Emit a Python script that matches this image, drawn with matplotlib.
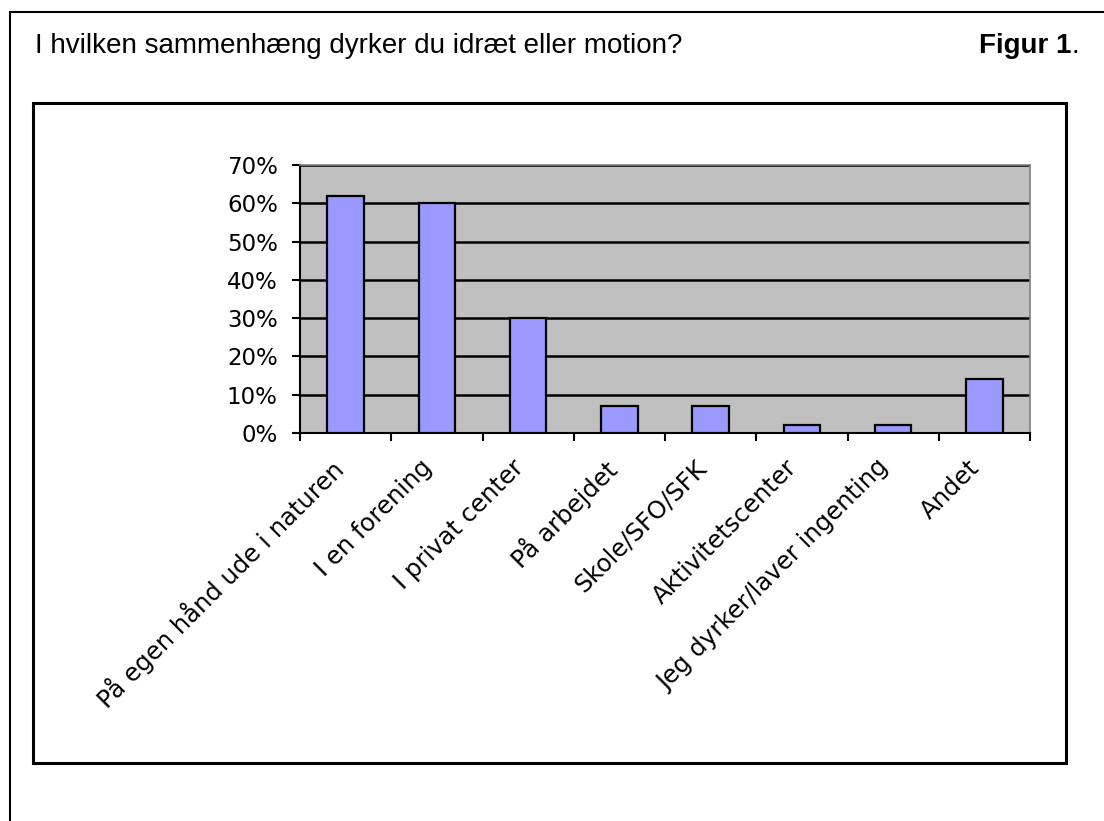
import numpy as np
import matplotlib
matplotlib.use("Agg")
import matplotlib.pyplot as plt
from matplotlib.patches import Rectangle
from matplotlib.lines import Line2D
from matplotlib.transforms import ScaledTranslation

categories = ["På egen hånd ude i naturen", "I en forening", "I privat center",
              "På arbejdet", "Skole/SFO/SFK", "Aktivitetscenter",
              "Jeg dyrker/laver ingenting", "Andet"]
values = [62, 60, 30, 7, 7, 2, 2, 14]
yticks = [0, 10, 20, 30, 40, 50, 60, 70]
ytick_labels = ["0%", "10%", "20%", "30%", "40%", "50%", "60%", "70%"]

W, H = 1104, 821
fig = plt.figure(figsize=(W / 100, H / 100), dpi=100)
fig.patch.set_facecolor("white")


def fx(px):
    return px / W


def fy(py):
    return 1 - py / H


# outer frame (only left and top visible)
fig.add_artist(Line2D([fx(10), fx(10)], [fy(12), 0], color="black", lw=1.5, transform=fig.transFigure))
fig.add_artist(Line2D([fx(10), 1], [fy(12), fy(12)], color="black", lw=1.5, transform=fig.transFigure))

# inner chart frame
fig.add_artist(Rectangle((fx(33), fy(763)), fx(1066) - fx(33), fy(103) - fy(763),
                         fill=False, ec="black", lw=2.2, transform=fig.transFigure))

fig.text(fx(35), fy(46), "I hvilken sammenhæng dyrker du idræt eller motion?",
         fontsize=20, family="Liberation Sans", va="center", ha="left")
fig.text(fx(1071), fy(46), "Figur 1", fontsize=20, family="Liberation Sans",
         fontweight="bold", va="center", ha="right")
fig.text(fx(1072), fy(46), ".", fontsize=20, family="Liberation Sans", va="center", ha="left")

ax = fig.add_axes([fx(300), fy(433), fx(1030) - fx(300), fy(165) - fy(433)])
ax.set_facecolor("#C0C0C0")

x = np.arange(len(categories))
ax.bar(x, values, width=0.4, color="#9999FF", edgecolor="black", linewidth=1.6, zorder=3)

ax.set_xlim(-0.5, len(categories) - 0.5)
ax.set_ylim(0, 70)
ax.set_yticks(yticks)
ax.set_yticklabels(ytick_labels, fontsize=16.5, family="DejaVu Sans")
ax.yaxis.grid(True, color="black", linewidth=1.8, zorder=1)
ax.set_axisbelow(True)

ax.set_xticks(np.arange(-0.5, len(categories), 1))
ax.set_xticklabels([""] * (len(categories) + 1))
ax.set_xticks(x, minor=True)
ax.set_xticklabels(categories, minor=True, rotation=45, ha="right", va="top",
                   rotation_mode="anchor", fontsize=17.5, family="DejaVu Sans")
ax.tick_params(axis="x", which="major", direction="out", length=6, width=1.5, color="black")
ax.tick_params(axis="x", which="minor", length=0, pad=16)
ax.tick_params(axis="y", direction="out", length=6, width=1.5, color="black", pad=10)

# nudge the rotated labels a little to the left, like the original
shift = ScaledTranslation(-12 / 72, 0, fig.dpi_scale_trans)
for lab in ax.get_xticklabels(minor=True):
    lab.set_transform(lab.get_transform() + shift)

for side in ["left", "bottom"]:
    ax.spines[side].set_color("black")
    ax.spines[side].set_linewidth(1.5)
for side in ["top", "right"]:
    ax.spines[side].set_color("#808080")
    ax.spines[side].set_linewidth(1.2)

fig.savefig("out.png", dpi=100)
